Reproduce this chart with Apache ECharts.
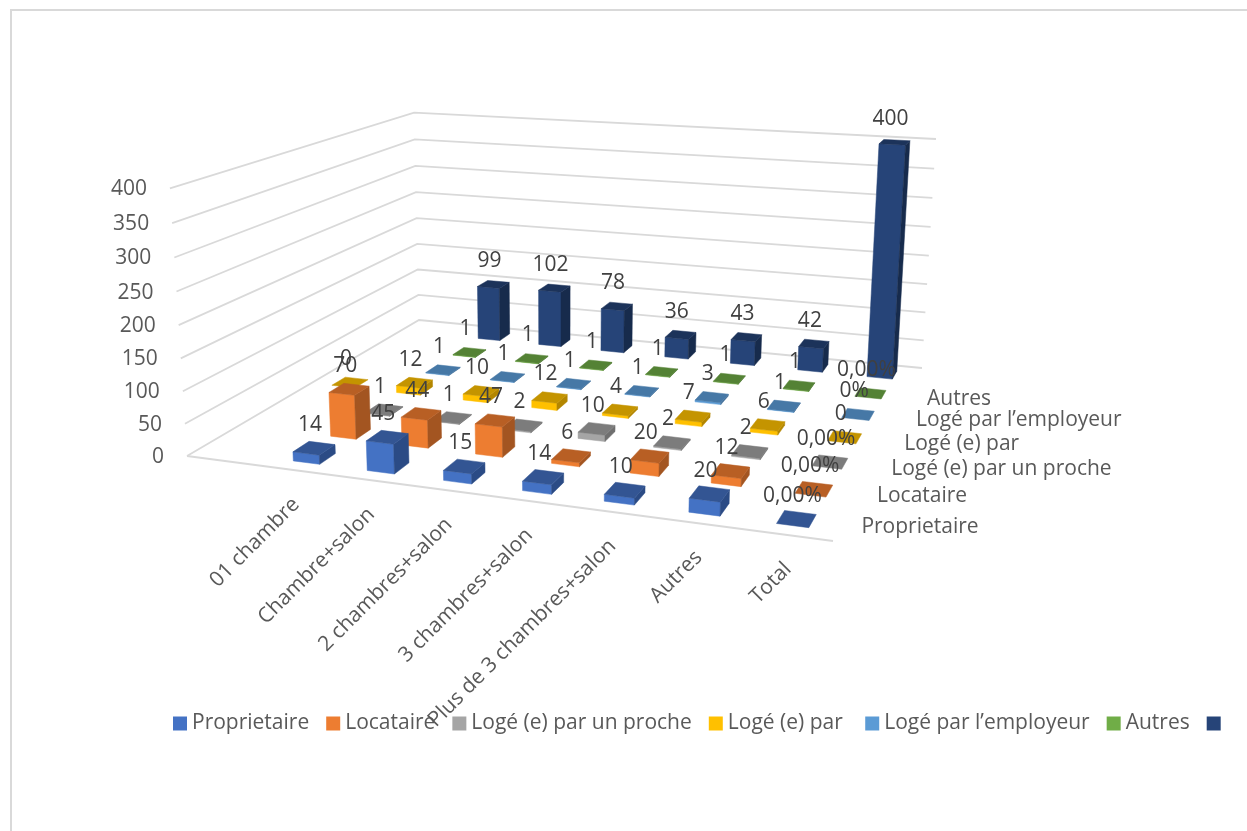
<!DOCTYPE html>
<html><head><meta charset="utf-8">
<script src="https://cdn.jsdelivr.net/npm/echarts@6/dist/echarts.min.js"></script>
<style>html,body{margin:0;padding:0;background:#fff}
#frame{position:absolute;left:10px;top:9px;width:1237px;height:822px;border-left:2px solid #D9D9D9;border-top:2px solid #D9D9D9;box-sizing:border-box}
#c{position:absolute;left:0;top:0;width:1247px;height:831px}</style></head>
<body><div id="frame"></div><div id="c"></div>
<script>
// ---- data ----
const categories = ["", "01 chambre", "Chambre+salon", "2 chambres+salon", "3 chambres+salon", "Plus de 3 chambres+salon", "Autres", "Total"];
const rowNames = ["Proprietaire", "Locataire", "Logé (e) par un proche", "Logé (e) par ", "Logé par l’employeur", "Autres", " "];
const proprietaire = [null, 14, 45, 15, 14, 10, 20, 0];
const locataire    = [null, 70, 44, 47, 6, 20, 12, 0];
const proche       = [null, 1, 1, 2, 10, 2, 2, 0];
const logePar      = [0, 12, 10, 12, 4, 7, 6, 0];
const employeur    = [null, 1, 1, 1, 1, 3, 1, 0];
const autres       = [null, 1, 1, 1, 1, 1, 1, 0];
const total        = [null, 99, 102, 78, 36, 43, 42, 400];
const rowValues = [proprietaire, locataire, proche, logePar, employeur, autres, total];
const lastColumnLabels = ["0,00%", "0,00%", "0,00%", "0", "0%", "0,00%", "400"];
const valueTicks = [0, 50, 100, 150, 200, 250, 300, 350, 400];
const faceColors = [
  ["#4472C4", "#335593", "#2B4B85"], ["#ED7D31", "#B85F24", "#A35521"], ["#A5A5A5", "#7C7C7C", "#6F6F6F"],
  ["#FFC000", "#C49400", "#B38600"], ["#5B9BD5", "#4678A6", "#3F6C96"], ["#70AD47", "#548235", "#4B7530"],
  ["#264478", "#1C335A", "#172B4C"]
];
const legendColors = faceColors.map(f => f[0]);

// ---- projection of the plot box (Excel style 3-D) ----
const FONT = '"Open Sans", sans-serif';
const FS = 21;
const FL=[187,456], FR=[833,541], BR=[922,368], BL=[419,320];
const H = (function(){
  const [x0,y0]=FL,[x1,y1]=FR,[x2,y2]=BR,[x3,y3]=BL;
  const dx1=x1-x2,dx2=x3-x2,sx=x0-x1+x2-x3,dy1=y1-y2,dy2=y3-y2,sy=y0-y1+y2-y3;
  const den=dx1*dy2-dx2*dy1, g=(sx*dy2-dx2*sy)/den, h=(dx1*sy-sx*dy1)/den;
  return {a:x1-x0+g*x1,b:x3-x0+h*x3,c:x0,d:y1-y0+g*y1,e:y3-y0+h*y3,f:y0,g,h};
})();
const VP=[560,6300];
const lam=(function(){ // top back-right wall corner at y=139
  const Yb=H.d+H.e+H.f, W0=H.g+H.h+1, Yt=139;
  return (Yb-Yt*W0)/(Yt-VP[1]);
})();
function project(u,v,w){
  const W=H.g*u+H.h*v+1+lam*w;
  return [(H.a*u+H.b*v+H.c+lam*VP[0]*w)/W,(H.d*u+H.e*v+H.f+lam*VP[1]*w)/W];
}
const BAR_W=0.36, BAR_D=0.42, ROWS=rowNames.length;
const gridBox={left:187,top:188,width:646,height:268};
function uvw(api,params,col,val){
  const p=api.coord([col,val]), cs=params.coordSys;
  return [(p[0]-cs.x)/cs.width,(cs.y+cs.height-p[1])/cs.height];
}
function poly(pts,fill){return {type:'polygon',shape:{points:pts},style:{fill:fill,stroke:fill,lineWidth:0.5}};}

function barSeries(row){
  return {
    type:'custom',name:rowNames[row],coordinateSystem:'cartesian2d',z:10+(ROWS-row),
    itemStyle:{color:legendColors[row]},animation:false,silent:true,
    encode:{x:0,y:1},
    data:rowValues[row].map((v,i)=>[i,v]).filter(d=>d[1]!==null),
    renderItem(params,api){
      const [uc,w]=uvw(api,params,api.value(0),api.value(1));
      const du=BAR_W/categories.length/2, dv=BAR_D/ROWS/2, vc=(row+.5)/ROWS;
      const u0=uc-du,u1=uc+du,v0=vc-dv,v1=vc+dv, c=faceColors[row];
      const children=[];
      if(api.value(1)>0){
        children.push(poly([project(u0,v0,0),project(u1,v0,0),project(u1,v0,w),project(u0,v0,w)],c[0]));
        children.push(poly([project(u1,v0,0),project(u1,v1,0),project(u1,v1,w),project(u1,v0,w)],c[2]));
      }
      children.push(poly([project(u0,v0,w),project(u1,v0,w),project(u1,v1,w),project(u0,v1,w)],c[1]));
      return {type:'group',children};
    }
  };
}
function valueLabelSeries(){
  const data=[];
  rowValues.forEach((vals,r)=>vals.forEach((v,i)=>{ if(v!==null) data.push([i,v,r,i===categories.length-1?lastColumnLabels[r]:String(v)]); }));
  return {type:'custom',coordinateSystem:'cartesian2d',z:40,animation:false,silent:true,encode:{x:0,y:1},data,
    renderItem(params,api){
      const [uc,w]=uvw(api,params,api.value(0),api.value(1));
      const d=data[params.dataIndex], p=project(uc,(d[2]+.5)/ROWS,w);
      return {type:'text',x:p[0]-4,y:p[1]-23,style:{text:d[3],fill:'#404040',fontSize:FS,fontFamily:FONT,align:'center',verticalAlign:'middle'}};
    }};
}
function wallSeries(){
  return {type:'custom',coordinateSystem:'cartesian2d',z:1,animation:false,silent:true,encode:{x:0,y:1},
    data:valueTicks.map(t=>[0,t]),
    renderItem(params,api){
      const [,w]=uvw(api,params,0,api.value(1));
      const pts=[project(0,0,w),project(0,1,w),project(1,1,w)];
      const kids=[{type:'polyline',shape:{points:pts},style:{stroke:'#D9D9D9',lineWidth:1.8,fill:null}}];
      if(w===0) kids.push({type:'line',shape:{x1:FL[0],y1:FL[1],x2:FR[0],y2:FR[1]},style:{stroke:'#D9D9D9',lineWidth:1.8}});
      const e=pts[0];
      kids.push({type:'text',x:e[0]-23,y:e[1]+1,style:{text:String(api.value(1)),fill:'#595959',fontSize:FS,fontFamily:FONT,align:'right',verticalAlign:'middle'}});
      return {type:'group',children:kids};
    }};
}
function categoryLabelSeries(){
  return {type:'custom',coordinateSystem:'cartesian2d',z:2,animation:false,silent:true,encode:{x:0,y:1},
    data:categories.map((c,i)=>[i,0]),
    renderItem(params,api){
      const i=api.value(0); if(!categories[i]) return null;
      const [uc]=uvw(api,params,i,0), p=project(uc,0,0);
      return {type:'text',x:p[0]+1,y:p[1]+31,rotation:Math.PI/4,style:{text:categories[i],fill:'#595959',fontSize:FS,fontFamily:FONT,align:'right',verticalAlign:'middle'}};
    }};
}
function rowLabelSeries(){
  return {type:'custom',coordinateSystem:'cartesian2d',z:2,animation:false,silent:true,encode:{x:0,y:1},
    data:rowNames.map((n,r)=>[7,0,r]),
    renderItem(params,api){
      const r=params.dataIndex;
      if(!rowNames[r].trim()) return null;
      const p=project(1,(r+.5)/ROWS,0);
      return {type:'text',x:p[0]+20,y:p[1]+2,style:{text:rowNames[r],fill:'#595959',fontSize:FS,fontFamily:FONT,align:'left',verticalAlign:'middle'}};
    }};
}
const chart=echarts.init(document.getElementById('c'),null,{renderer:'canvas'});
chart.setOption({
  animation:false,backgroundColor:'transparent',
  grid:gridBox,
  xAxis:{type:'category',data:categories,show:false},
  yAxis:{type:'value',min:0,max:400,interval:50,show:false},
  legend:{left:168,top:708,icon:'rect',itemWidth:14,itemHeight:14,itemGap:17,selectedMode:false,
    data:rowNames,textStyle:{color:'#595959',fontSize:FS,fontFamily:FONT,padding:[0,0,0,0]}},
  series:[wallSeries()].concat(rowNames.map((n,r)=>barSeries(r)),[categoryLabelSeries(),rowLabelSeries(),valueLabelSeries()])
});
</script></body></html>
